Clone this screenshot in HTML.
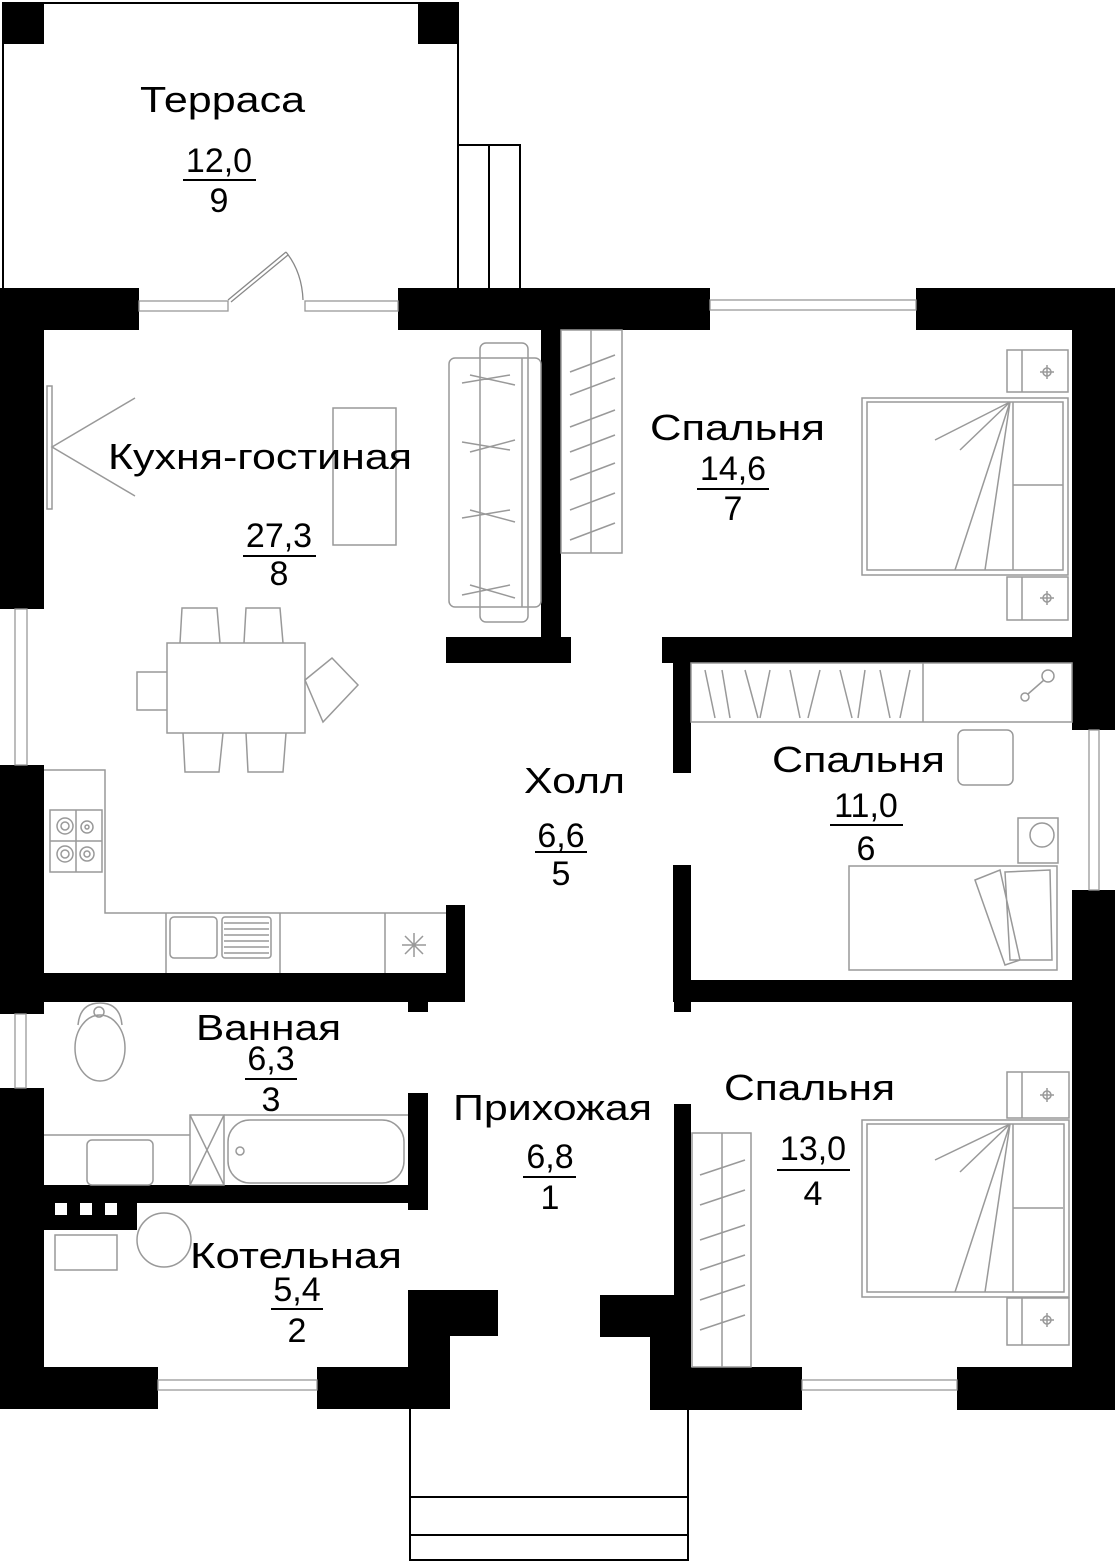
<!DOCTYPE html>
<html><head><meta charset="utf-8"><style>
html,body{margin:0;padding:0;background:#fff;}
svg{display:block;}
text{font-family:"Liberation Sans",sans-serif;fill:#000;}
</style></head><body>
<svg width="1115" height="1561" viewBox="0 0 1115 1561" xmlns="http://www.w3.org/2000/svg">
<rect width="1115" height="1561" fill="#fff"/>
<!-- terrace -->
<g fill="none" stroke="#000" stroke-width="2">
<polyline points="3,288 3,3 458,3 458,288"/>
<polyline points="458,145 520,145 520,288"/>
<line x1="489" y1="145" x2="489" y2="288"/>
<!-- entrance steps -->
<polyline points="410,1409 410,1560 688,1560 688,1409"/>
<line x1="410" y1="1497" x2="688" y2="1497"/>
<line x1="410" y1="1535" x2="688" y2="1535"/>
</g>
<g fill="#000">
<rect x="3" y="3" width="41" height="41"/>
<rect x="418" y="3" width="40" height="41"/>
<!-- top walls -->
<rect x="0" y="288" width="139" height="42"/>
<rect x="0" y="288" width="44" height="321"/>
<rect x="398" y="288" width="312" height="42"/>
<rect x="916" y="288" width="199" height="42"/>
<rect x="1072" y="288" width="43" height="442"/>
<rect x="1072" y="890" width="43" height="520"/>
<!-- partition kitchen/bedroom -->
<rect x="541" y="330" width="20" height="333"/>
<rect x="446" y="637" width="125" height="26"/>
<!-- bedroom 6 walls -->
<rect x="662" y="637" width="410" height="26"/>
<rect x="673" y="637" width="18" height="136"/>
<rect x="673" y="865" width="18" height="137"/>
<rect x="673" y="980" width="442" height="22"/>
<rect x="674" y="980" width="17" height="32"/>
<!-- bedroom 4 -->
<rect x="674" y="1104" width="17" height="233"/>
<polygon points="600,1295 691,1295 691,1367 802,1367 802,1410 650,1410 650,1337 600,1337"/>
<rect x="957" y="1367" width="158" height="43"/>
<!-- left lower -->
<rect x="0" y="765" width="44" height="249"/>
<rect x="44" y="973" width="421" height="29"/>
<rect x="446" y="905" width="19" height="97"/>
<rect x="408" y="1000" width="20" height="12"/>
<rect x="0" y="1088" width="44" height="321"/>
<rect x="408" y="1093" width="20" height="117"/>
<rect x="44" y="1185" width="384" height="18"/>
<rect x="44" y="1185" width="93" height="45"/>
<rect x="0" y="1367" width="158" height="42"/>
<polygon points="317,1367 408,1367 408,1290 498,1290 498,1336 450,1336 450,1409 317,1409"/>
</g>
<g fill="#fff"><rect x="55" y="1203" width="12" height="12"/><rect x="80" y="1203" width="12" height="12"/><rect x="105" y="1203" width="12" height="12"/></g>
<!-- windows -->
<g fill="#fff" stroke="#999" stroke-width="1.3">
<rect x="139" y="301" width="89" height="10"/>
<rect x="305" y="301" width="93" height="10"/>
<rect x="710" y="300" width="206" height="10"/>
<rect x="15" y="609" width="12" height="156"/>
<rect x="15" y="1014" width="11" height="74"/>
<rect x="1089" y="730" width="10" height="160"/>
<rect x="158" y="1380" width="159" height="10"/>
<rect x="802" y="1380" width="155" height="10"/>
</g>
<g fill="none" stroke="#888" stroke-width="1.3">
<line x1="228" y1="300" x2="286" y2="252"/><line x1="231" y1="302" x2="288" y2="255"/>
<path d="M286,252 Q302,272 303,300"/>
</g>
<!-- furniture -->
<g fill="none" stroke="#999" stroke-width="1.5">
<rect x="47" y="386" width="5" height="123"/>
<polyline points="135,398 52,447 135,496"/>
<rect x="333" y="408" width="63" height="137"/>
<rect x="449" y="358" width="92" height="249" rx="6"/>
<rect x="480" y="343" width="48" height="279" rx="6"/>
<line x1="522" y1="358" x2="522" y2="607"/>
<path d="M462,383 L510,375 M470,375 L515,385 M462,442 L510,450 M470,452 L515,440 M462,518 L510,510 M470,510 L515,522 M462,595 L510,585 M470,585 L515,598"/>
<rect x="167" y="643" width="138" height="90"/>
<path d="M180,643 L182,608 L217,608 L220,643 M244,643 L246,608 L280,608 L283,643 M183,733 L185,772 L219,772 L223,733 M246,733 L248,772 L283,772 L286,733 M167,672 L137,672 L137,710 L167,710"/>
<path d="M305,680 L332,658 L358,685 L323,722 Z"/>
<polyline points="44,770 105,770 105,913 446,913"/>
<rect x="50" y="810" width="52" height="62"/>
<line x1="76" y1="810" x2="76" y2="872"/><line x1="50" y1="841" x2="102" y2="841"/>
<circle cx="65" cy="826" r="8"/><circle cx="65" cy="826" r="4"/>
<circle cx="87" cy="827" r="6"/><circle cx="87" cy="827" r="2"/>
<circle cx="65" cy="854" r="8"/><circle cx="65" cy="854" r="4"/>
<circle cx="87" cy="854" r="7"/><circle cx="87" cy="854" r="3"/>
<line x1="166" y1="913" x2="166" y2="973"/><line x1="280" y1="913" x2="280" y2="973"/><line x1="385" y1="913" x2="385" y2="973"/>
<rect x="170" y="917" width="47" height="41" rx="4"/>
<rect x="222" y="917" width="49" height="41" rx="3"/>
<path d="M224,923H269M224,929H269M224,935H269M224,941H269M224,947H269M224,953H269"/>
<path d="M402,945 L426,945 M414,933 L414,957 M405,936 L423,954 M423,936 L405,954"/>
<!-- bathroom -->
<path d="M78,1025 Q80,1003 100,1003 Q120,1003 122,1025"/>
<ellipse cx="100" cy="1048" rx="25" ry="33"/>
<circle cx="99" cy="1012" r="5"/>
<line x1="44" y1="1135" x2="190" y2="1135"/>
<rect x="87" y="1140" width="66" height="45" rx="5"/>
<rect x="190" y="1115" width="34" height="70"/>
<path d="M190,1115 L224,1185 M224,1115 L190,1185"/>
<line x1="224" y1="1115" x2="408" y2="1115"/>
<rect x="228" y="1120" width="176" height="63" rx="22"/>
<circle cx="240" cy="1151" r="4"/>
<circle cx="164" cy="1240" r="27"/>
<rect x="55" y="1235" width="62" height="35"/>
<!-- bedroom 7 -->
<rect x="561" y="330" width="61" height="223"/>
<line x1="591" y1="330" x2="591" y2="553"/>
<path d="M570,372 L615,355 M570,395 L615,378 M570,427 L615,410 M570,452 L615,435 M570,480 L615,463 M570,510 L615,493 M570,540 L615,523"/>
<rect x="862" y="398" width="206" height="177"/>
<rect x="867" y="402" width="196" height="168"/>
<line x1="1013" y1="402" x2="1013" y2="570"/>
<line x1="1013" y1="485" x2="1063" y2="485"/>
<path d="M1010,402 L955,570 M1010,402 L985,570 M1010,402 L960,450 M1010,402 L935,440"/>
<rect x="1007" y="350" width="61" height="42"/><line x1="1022" y1="350" x2="1022" y2="392"/>
<rect x="1007" y="577" width="61" height="43"/><line x1="1022" y1="577" x2="1022" y2="620"/>
<circle cx="1047" cy="372" r="4"/><path d="M1040,372H1054M1047,365V379"/>
<circle cx="1047" cy="598" r="4"/><path d="M1040,598H1054M1047,591V605"/>
<!-- bedroom 6 -->
<rect x="691" y="663" width="381" height="59"/>
<line x1="923" y1="663" x2="923" y2="722"/>
<path d="M705,670 L715,718 M722,670 L730,718 M745,670 L758,718 M770,670 L760,718 M790,670 L800,718 M820,670 L808,718 M840,670 L852,718 M865,670 L858,718 M880,670 L890,718 M910,670 L900,718"/>
<circle cx="1048" cy="676" r="6"/><circle cx="1025" cy="697" r="4"/><line x1="1028" y1="694" x2="1044" y2="680"/>
<rect x="958" y="730" width="55" height="55" rx="6"/>
<rect x="1018" y="818" width="40" height="45"/>
<circle cx="1042" cy="835" r="12"/>
<rect x="849" y="866" width="208" height="104"/>
<path d="M975,880 L1000,870 L1020,960 L1005,965 Z M1005,872 L1050,870 L1052,960 L1010,960 Z"/>
<!-- bedroom 4 -->
<rect x="692" y="1133" width="59" height="234"/>
<line x1="722" y1="1133" x2="722" y2="1367"/>
<path d="M700,1175 L745,1160 M700,1205 L745,1190 M700,1240 L745,1225 M700,1270 L745,1255 M700,1300 L745,1285 M700,1330 L745,1315"/>
<rect x="862" y="1120" width="207" height="177"/>
<rect x="867" y="1124" width="197" height="168"/>
<line x1="1013" y1="1124" x2="1013" y2="1292"/>
<line x1="1013" y1="1208" x2="1063" y2="1208"/>
<path d="M1010,1124 L955,1292 M1010,1124 L985,1292 M1010,1124 L960,1172 M1010,1124 L935,1160"/>
<rect x="1007" y="1072" width="62" height="46"/><line x1="1022" y1="1072" x2="1022" y2="1118"/>
<rect x="1007" y="1298" width="62" height="47"/><line x1="1022" y1="1298" x2="1022" y2="1345"/>
<circle cx="1047" cy="1095" r="4"/><path d="M1040,1095H1054M1047,1088V1102"/>
<circle cx="1047" cy="1320" r="4"/><path d="M1040,1320H1054M1047,1313V1327"/>
</g>
<!-- labels -->
<g font-size="36">
<text x="140" y="112" textLength="165" lengthAdjust="spacingAndGlyphs">Терраса</text>
<text x="108" y="469" textLength="304" lengthAdjust="spacingAndGlyphs">Кухня-гостиная</text>
<text x="650" y="440" textLength="175" lengthAdjust="spacingAndGlyphs">Спальня</text>
<text x="772" y="772" textLength="173" lengthAdjust="spacingAndGlyphs">Спальня</text>
<text x="724" y="1100" textLength="171" lengthAdjust="spacingAndGlyphs">Спальня</text>
<text x="524" y="793" textLength="101" lengthAdjust="spacingAndGlyphs">Холл</text>
<text x="196" y="1040" textLength="145" lengthAdjust="spacingAndGlyphs">Ванная</text>
<text x="453" y="1120" textLength="199" lengthAdjust="spacingAndGlyphs">Прихожая</text>
<text x="190" y="1268" textLength="212" lengthAdjust="spacingAndGlyphs">Котельная</text>
</g>
<g font-size="34" text-anchor="middle">
<text x="219" y="172">12,0</text><text x="219" y="212">9</text>
<text x="279" y="547">27,3</text><text x="279" y="585">8</text>
<text x="733" y="480">14,6</text><text x="733" y="520">7</text>
<text x="866" y="817">11,0</text><text x="866" y="860">6</text>
<text x="813" y="1160">13,0</text><text x="813" y="1205">4</text>
<text x="561" y="847">6,6</text><text x="561" y="885">5</text>
<text x="271" y="1070">6,3</text><text x="271" y="1111">3</text>
<text x="550" y="1168">6,8</text><text x="550" y="1209">1</text>
<text x="297" y="1301">5,4</text><text x="297" y="1342">2</text>
</g>
<g stroke="#000" stroke-width="2">
<line x1="183" y1="180" x2="256" y2="180"/>
<line x1="243" y1="556" x2="316" y2="556"/>
<line x1="697" y1="489" x2="769" y2="489"/>
<line x1="830" y1="825" x2="903" y2="825"/>
<line x1="777" y1="1170" x2="850" y2="1170"/>
<line x1="535" y1="852" x2="587" y2="852"/>
<line x1="245" y1="1079" x2="297" y2="1079"/>
<line x1="523" y1="1177" x2="576" y2="1177"/>
<line x1="271" y1="1309" x2="323" y2="1309"/>
</g>
</svg>
</body></html>
